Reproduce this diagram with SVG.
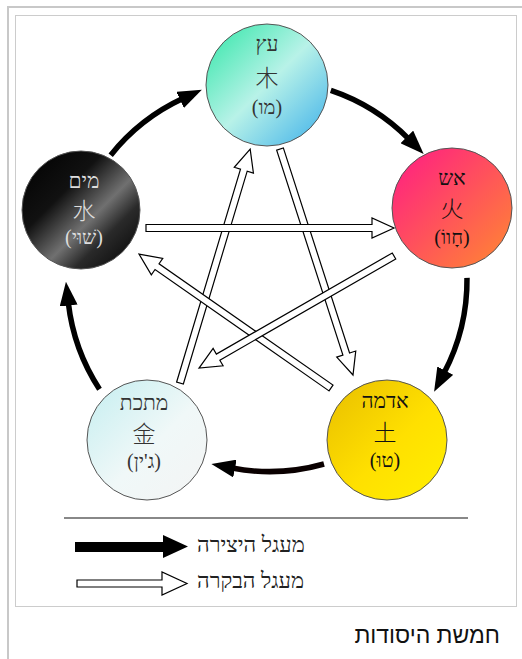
<svg xmlns="http://www.w3.org/2000/svg" width="522" height="659" viewBox="0 0 522 659">
<style>
.node{stroke:#555;stroke-width:1}
.heb{font-family:"Liberation Serif","DejaVu Serif",serif;font-size:21px;text-anchor:middle}
.cjk{font-family:"Noto Sans CJK SC","Noto Sans CJK JP",sans-serif;font-size:23px;font-weight:300;text-anchor:middle}
.par{font-family:"Liberation Serif","DejaVu Serif",serif;font-size:20px;text-anchor:middle}
.arc{fill:none;stroke:#000;stroke-width:5.5;marker-end:url(#ah)}
.ha{fill:#fff;stroke:#000;stroke-width:1.2}
.leg{font-family:"Liberation Serif","DejaVu Serif",serif;font-size:22px;fill:#222}
</style>
<defs>
<marker id="ah" markerUnits="userSpaceOnUse" markerWidth="24" markerHeight="18" refX="3" refY="9" orient="auto" viewBox="0 0 24 18"><path d="M0,0 L24,9 L0,18 z" fill="#000"/></marker>
<linearGradient id="gWood" x1="0" y1="0" x2="1" y2="1"><stop offset="0" stop-color="#2ee6a6"/><stop offset="0.5" stop-color="#b8f2e8"/><stop offset="1" stop-color="#3aaeea"/></linearGradient>
<linearGradient id="gFire" x1="0" y1="0" x2="1" y2="1"><stop offset="0" stop-color="#ff1a86"/><stop offset="1" stop-color="#ff8a30"/></linearGradient>
<linearGradient id="gEarth" x1="0" y1="0" x2="1" y2="1"><stop offset="0" stop-color="#e8be00"/><stop offset="0.55" stop-color="#ffe000"/><stop offset="1" stop-color="#fff000"/></linearGradient>
<linearGradient id="gMetal" x1="0" y1="0" x2="1" y2="1"><stop offset="0" stop-color="#c4eef0"/><stop offset="0.55" stop-color="#f0f8f8"/><stop offset="1" stop-color="#f4f4f4"/></linearGradient>
<linearGradient id="gWater" x1="0" y1="0" x2="1" y2="1"><stop offset="0" stop-color="#000"/><stop offset="0.35" stop-color="#111"/><stop offset="0.58" stop-color="#707070"/><stop offset="0.72" stop-color="#2a2a2a"/><stop offset="1" stop-color="#000"/></linearGradient>
</defs>
<rect width="522" height="659" fill="#fff"/>
<path d="M8,659 V7 H522" fill="none" stroke="#c8c8c8" stroke-width="2"/>
<rect x="15.5" y="15.5" width="501" height="591" fill="#fff" stroke="#ccc" stroke-width="1"/>
<g id="connectors">
<path class="arc" d="M110.7,155.2 A200,200 0 0,1 182.8,98.6"/>
<path class="arc" d="M330.8,90.4 A200,200 0 0,1 408.9,139.1"/>
<path class="arc" d="M467,277.9 A200,200 0 0,1 443.9,373.3"/>
<path class="arc" d="M324,464 A200,200 0 0,1 232,468" style="stroke:#0a0000"/>
<path class="arc" d="M99.5,389.2 A200,200 0 0,1 68.3,302.6"/>
<polygon class="ha" transform="translate(180,383) rotate(-73.3)" points="0,-3.5 222.2,-3.5 222.2,-10 244.2,0 222.2,10 222.2,3.5 0,3.5"/>
<polygon class="ha" transform="translate(280,149) rotate(72.1)" points="0,-3.5 215.5,-3.5 215.5,-10 237.5,0 215.5,10 215.5,3.5 0,3.5"/>
<polygon class="ha" transform="translate(331,388) rotate(-145.1)" points="0,-3.5 212.1,-3.5 212.1,-10 234.1,0 212.1,10 212.1,3.5 0,3.5"/>
<polygon class="ha" transform="translate(394,256) rotate(150.1)" points="0,-3.5 202.9,-3.5 202.9,-10 224.9,0 202.9,10 202.9,3.5 0,3.5"/>
<polygon class="ha" transform="translate(146,228)" points="0,-3.5 226,-3.5 226,-10 248,0 226,10 226,3.5 0,3.5"/>
</g>
<g id="wood">
<circle class="node" cx="267" cy="85" r="61" fill="url(#gWood)"/>
<text class="heb" x="267" y="51" fill="#333">עץ</text>
<text class="cjk" x="267" y="86" fill="#333">木</text>
<text class="par" x="267" y="114" fill="#333">(מו)</text>
</g>
<g id="fire">
<circle class="node" cx="452" cy="208" r="60" fill="url(#gFire)"/>
<text class="heb" x="452" y="185" fill="#111">אש</text>
<text class="cjk" x="452" y="217" fill="#111">火</text>
<text class="par" x="452" y="244" fill="#111">(חָווֹ)</text>
</g>
<g id="earth">
<circle class="node" cx="387" cy="440" r="60" fill="url(#gEarth)"/>
<text class="heb" x="385" y="408" fill="#111">אדמה</text>
<text class="cjk" x="385" y="441" fill="#111">土</text>
<text class="par" x="385" y="467" fill="#111">(טוּ)</text>
</g>
<g id="metal">
<circle class="node" cx="147" cy="440" r="60" fill="url(#gMetal)" stroke="#888"/>
<text class="heb" x="144" y="410" fill="#333">מתכת</text>
<text class="cjk" x="144" y="442" fill="#333">金</text>
<text class="par" x="144" y="468" fill="#333">(ג'ין)</text>
</g>
<g id="water">
<circle class="node" cx="81" cy="210" r="59" fill="url(#gWater)"/>
<text class="heb" x="84" y="188" fill="#ddd">מים</text>
<text class="cjk" x="84" y="219" fill="#ddd">水</text>
<text class="par" x="84" y="244" fill="#ddd">(שׁוּי)</text>
</g>
<g id="legend">
<line x1="64" y1="518" x2="468" y2="518" stroke="#888" stroke-width="2"/>
<polygon points="75,542 163,542 163,535 188,546.5 163,558 163,552 75,552" fill="#000"/>
<text class="leg" x="197" y="552">מעגל היצירה</text>
<polygon class="ha" points="77,580 162,580 162,572 187,583.5 162,595 162,587 77,587"/>
<text class="leg" x="197" y="588">מעגל הבקרה</text>
</g>
<text x="500" y="643" font-family="'Liberation Sans','DejaVu Sans',sans-serif" font-size="23" text-anchor="end" fill="#111">חמשת היסודות</text>
</svg>
